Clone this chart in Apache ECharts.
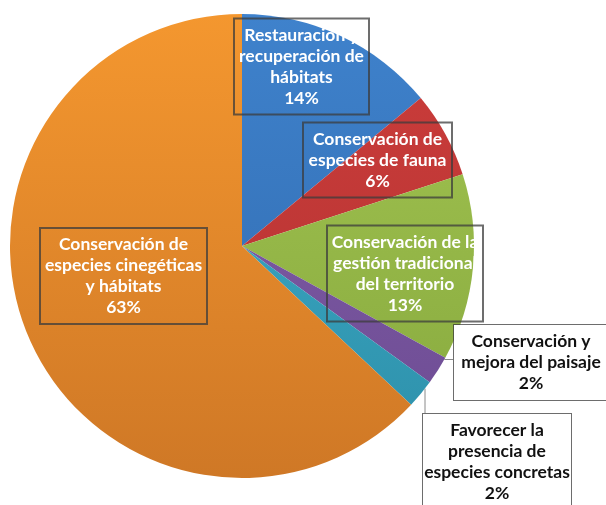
<!DOCTYPE html>
<html>
<head>
<meta charset="utf-8">
<script src="https://cdn.jsdelivr.net/npm/echarts@6/dist/echarts.min.js"></script>
<style>
  html, body { margin: 0; padding: 0; background: #fff; }
  #ec { width: 606px; height: 505px; }
</style>
</head>
<body>
<div id="ec"></div>
<script>
// datos del gráfico (porcentaje de cada objetivo)
const names = [
  "Restauración y\nrecuperación de\nhábitats",
  "Conservación de\nespecies de fauna",
  "Conservación de la\ngestión tradicional\ndel territorio",
  "Conservación y\nmejora del paisaje",
  "Favorecer la\npresencia de\nespecies concretas",
  "Conservación de\nespecies cinegéticas\ny hábitats",
];
const values = [14, 6, 13, 2, 2, 63];

// colores (arriba / abajo del degradado)
const colorTop = ["#3f82cc", "#cc3d3b", "#a3c552", "#8460ab", "#3fb0cc", "#f4972f"];
const colorBottom = ["#2f69ad", "#b23231", "#86a83d", "#6c4b92", "#2d8fa9", "#cf7826"];
const textColor = ["#fff", "#fff", "#fff", "#111", "#111", "#fff"];
const outside = [false, false, false, true, true, false];
// linea guia: horizontal ('h') o vertical ('v')
const leader = [null, null, null, "h", "v", null];

// cajas de las etiquetas: [centro x, centro y, ancho]
const labelBox = [
  [301.5, 66.5, 135],
  [377.5, 160, 149],
  [405, 273.5, 156],
  [531, 362.5, 154],
  [497, 462, 148],
  [123.5, 276, 167],
];

const cx = 242, cy = 246, r = 232;

const domChart = document.getElementById("ec");
const myChart = echarts.init(domChart);

const data = values.map((v, i) => ({
  name: names[i],
  value: v,
  itemStyle: {
    color: {
      type: "linear",
      x: 0, y: cy - r, x2: 0, y2: cy + r,
      global: true,
      colorStops: [
        { offset: 0, color: colorTop[i] },
        { offset: 1, color: colorBottom[i] },
      ],
    },
  },
  label: {
    position: outside[i] ? "outside" : "inside",
    color: textColor[i],
    width: labelBox[i][2],
    backgroundColor: outside[i] ? "#fff" : "transparent",
  },
  labelLine: { show: outside[i] },
}));

function leaderPoints(i, rect) {
  if (leader[i] === "h") {
    const y = labelBox[i][1] - 3;
    return [[cx + Math.sqrt(r * r - (y - cy) * (y - cy)), y], [rect.x, y]];
  }
  if (leader[i] === "v") {
    const x = rect.x + 3;
    return [[x, cy + Math.sqrt(r * r - (x - cx) * (x - cx))], [x, rect.y]];
  }
  return undefined;
}

myChart.setOption({
  animation: false,
  series: [
    {
      type: "pie",
      center: [cx, cy],
      radius: r,
      startAngle: 90,
      clockwise: true,
      avoidLabelOverlap: false,
      data: data,
      itemStyle: { borderWidth: 0 },
      label: {
        show: true,
        formatter: (p) => p.name + "\n" + p.value + "%",
        fontFamily: "Lato",
        fontWeight: "bold",
        fontSize: 17.5,
        lineHeight: 21,
        align: "center",
        padding: [8, 0, 4, 0],
        borderColor: "rgba(60,60,60,0.75)",
        borderWidth: 1,
        overflow: "truncate",
        ellipsis: "",
      },
      labelLine: {
        length: 5,
        length2: 5,
        lineStyle: { color: "#8a8a8a", width: 1 },
      },
      labelLayout: (params) => {
        const i = params.dataIndex;
        const b = labelBox[i];
        const w = params.labelRect.width, h = params.labelRect.height;
        const rect = { x: b[0] - w / 2, y: b[1] - h / 2 };
        const out = { x: b[0], y: b[1], align: "center", verticalAlign: "middle" };
        const pts = leaderPoints(i, rect);
        if (pts) out.labelLinePoints = pts;
        return out;
      },
      emphasis: { disabled: true },
    },
  ],
});
</script>
</body>
</html>
